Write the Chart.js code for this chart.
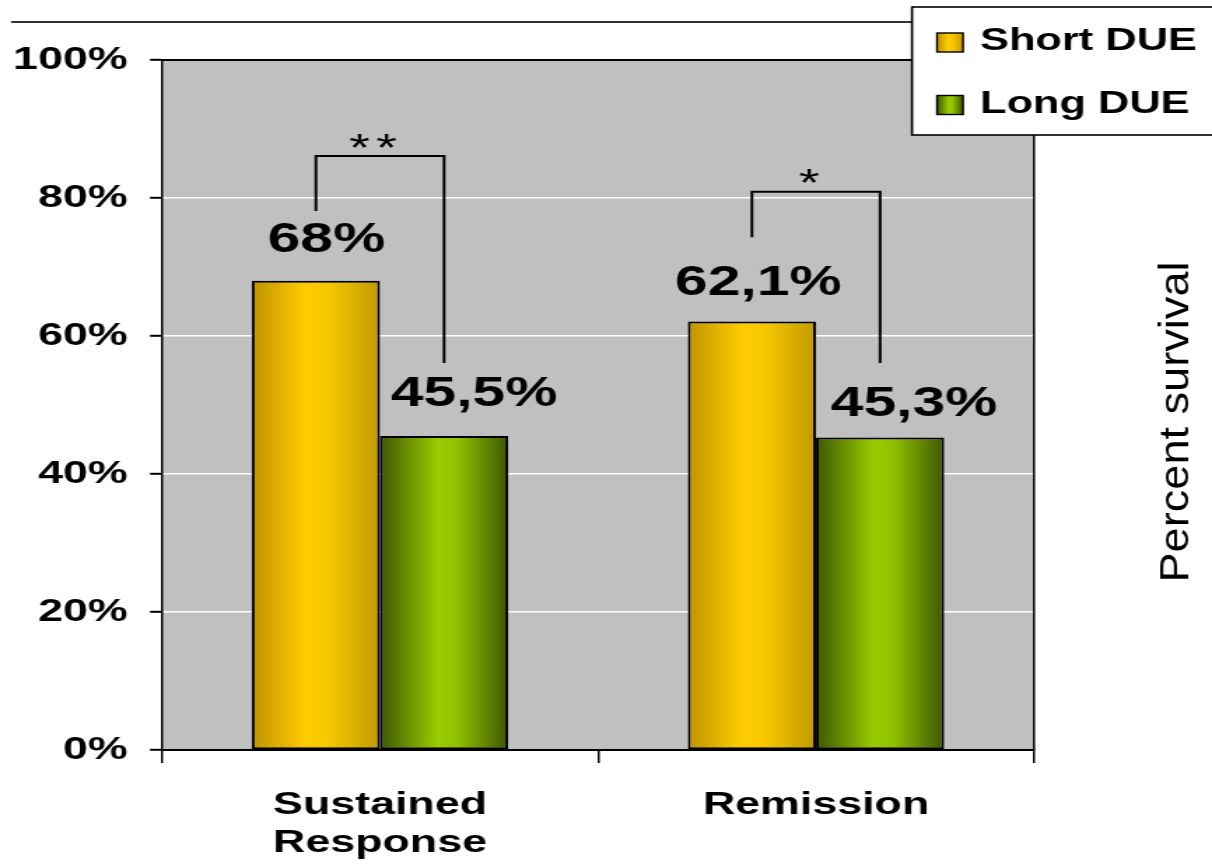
<!DOCTYPE html>
<html>
<head>
<meta charset="utf-8">
<title>Percent survival by DUE</title>
<script src="https://cdn.jsdelivr.net/npm/chart.js@4/dist/chart.umd.min.js"></script>
<style>
  html, body { margin: 0; padding: 0; background: #fff; overflow: hidden; }
  /* the drawing is laid out on a narrow canvas and widened to the page */
  #wrap { position: absolute; left: 0; top: 0; width: 866px; height: 868px;
          transform-origin: 0 0; transform: scaleX(1.39954); }
  canvas { display: block; }
</style>
</head>
<body>
<div id="wrap"><canvas id="c" width="866" height="868"></canvas></div>
<script>
// ---- data ----
const categories = [['Sustained', 'Response'], 'Remission'];
const seriesNames = ['Short DUE', 'Long DUE'];
const shortDUE = [68, 62.1];
const longDUE = [45.5, 45.3];
const yTicks = [0, 20, 40, 60, 80, 100];
const sigLabels = ['**', '*'];
const bracketTop = [86.1, 80.9];      // level of each significance bracket (%)
const bracketLeftEnd = [78.1, 74.3];  // where the left leg stops (%)
const bracketRightEnd = [56.1, 56.1]; // where the right leg stops (%)
const sideTitle = 'Percent survival';

// ---- styling ----
const SX = 1212 / 866;                 // horizontal widening applied by CSS
const FONT = '"Liberation Sans", Arial, sans-serif';
const palette = [
  [[0, '#BF9300'], [0.42, '#FFCC00'], [0.6, '#F7C700'], [1, '#C19A00']],
  [[0, '#3E5700'], [0.45, '#99CC00'], [0.6, '#91C200'], [1, '#3E5700']]
];
// nudges of the value labels: [dataset][category] in canvas px
const labelDx = [[7.5, 4.6], [21.4, 24.3]];
const labelGap = [[29, 27], [30, 21]];

const fmtPct = v => String(v).replace('.', ',') + '%';

function fillGradient(ctx, x0, x1, stops) {
  const g = ctx.createLinearGradient(x0, 0, x1, 0);
  stops.forEach(([o, c]) => g.addColorStop(o, c));
  return g;
}

const decor = {
  id: 'decor',
  beforeDraw(chart) {
    const { ctx, chartArea: a } = chart;
    ctx.save();
    ctx.fillStyle = '#C0C0C0';
    ctx.fillRect(a.left, a.top, a.right - a.left, a.bottom - a.top);
    ctx.restore();
  },
  beforeDatasetsDraw(chart) {
    const ctx = chart.ctx;
    chart.data.datasets.forEach((ds, di) => {
      chart.getDatasetMeta(di).data.forEach(bar => {
        const g = fillGradient(ctx, bar.x - bar.width / 2, bar.x + bar.width / 2, palette[di]);
        bar.options = Object.assign({}, bar.options, { backgroundColor: g });
      });
    });
  },
  afterDatasetsDraw(chart) {
    const { ctx, chartArea: a } = chart;
    const y = chart.scales.y;
    ctx.save();

    // frame: top and right edges of the plot
    ctx.strokeStyle = '#000';
    ctx.lineWidth = 2;
    ctx.beginPath();
    ctx.moveTo(a.left, a.top); ctx.lineTo(a.right, a.top);
    ctx.stroke();
    ctx.lineWidth = 1.5;
    ctx.beginPath();
    ctx.moveTo(a.right, a.top); ctx.lineTo(a.right, a.bottom);
    ctx.stroke();

    // value labels
    ctx.fillStyle = '#000';
    ctx.font = 'bold 42px ' + FONT;
    ctx.textAlign = 'center';
    ctx.textBaseline = 'alphabetic';
    chart.data.datasets.forEach((ds, di) => {
      chart.getDatasetMeta(di).data.forEach((bar, i) => {
        ctx.fillText(fmtPct(ds.data[i]), bar.x + labelDx[di][i], bar.y - labelGap[di][i]);
      });
    });

    // significance brackets
    const m0 = chart.getDatasetMeta(0).data;
    const m1 = chart.getDatasetMeta(1).data;
    ctx.strokeStyle = '#000';
    ctx.lineWidth = 2;
    sigLabels.forEach((lab, i) => {
      const xl = m0[i].x, xr = m1[i].x;
      const yt = y.getPixelForValue(bracketTop[i]);
      ctx.beginPath();
      ctx.moveTo(xl, y.getPixelForValue(bracketLeftEnd[i]));
      ctx.lineTo(xl, yt);
      ctx.lineTo(xr, yt);
      ctx.lineTo(xr, y.getPixelForValue(bracketRightEnd[i]));
      ctx.stroke();
      // stars, spaced apart
      const fs = 38;
      ctx.font = fs + 'px ' + FONT;
      ctx.textAlign = 'center';
      ctx.textBaseline = 'alphabetic';
      const cx = (xl + xr) / 2 - 7 / SX;
      const step = 27 / SX;
      const base = yt - 17 + 0.57 * fs;
      const n = lab.length;
      for (let k = 0; k < n; k++) {
        ctx.fillText('*', cx + (k - (n - 1) / 2) * step, base);
      }
    });

    // rule across the top
    ctx.strokeStyle = '#333';
    ctx.lineWidth = 2;
    ctx.beginPath();
    ctx.moveTo(11 / SX, 22); ctx.lineTo(912 / SX, 22);
    ctx.stroke();

    // legend box
    const lx = 912 / SX;
    ctx.fillStyle = '#fff';
    ctx.fillRect(lx, 7, 300, 128);
    ctx.strokeStyle = '#000';
    ctx.lineWidth = 1.6;
    ctx.strokeRect(lx, 7, 300, 128);
    const rows = [42.5, 105];
    const textRows = [41, 104];
    chart.data.datasets.forEach((ds, di) => {
      const sx = 937 / SX, sw = 18.6, sh = 19;
      const sy = rows[di] - sh / 2;
      ctx.fillStyle = fillGradient(ctx, sx, sx + sw, palette[di]);
      ctx.fillRect(sx, sy, sw, sh);
      ctx.lineWidth = 1.4;
      ctx.strokeStyle = '#000';
      ctx.strokeRect(sx, sy, sw, sh);
      ctx.fillStyle = '#000';
      ctx.font = 'bold 31px ' + FONT;
      ctx.textAlign = 'left';
      ctx.textBaseline = 'middle';
      ctx.fillText(ds.label, 980 / SX, textRows[di]);
    });

    // rotated side title
    ctx.save();
    ctx.translate(1177 / SX, 422);
    ctx.rotate(-Math.PI / 2);
    ctx.font = '29px ' + FONT;
    const w = ctx.measureText(sideTitle).width;
    ctx.scale(321 / w, 1);
    ctx.fillStyle = '#000';
    ctx.textAlign = 'center';
    ctx.textBaseline = 'middle';
    ctx.fillText(sideTitle, 0, 0);
    ctx.restore();

    ctx.restore();
  }
};

new Chart(document.getElementById('c'), {
  type: 'bar',
  data: {
    labels: categories,
    datasets: [
      { label: seriesNames[0], data: shortDUE, backgroundColor: '#FFCC00',
        borderColor: '#000', borderWidth: 2, borderSkipped: false },
      { label: seriesNames[1], data: longDUE, backgroundColor: '#99CC00',
        borderColor: '#000', borderWidth: 2, borderSkipped: false }
    ]
  },
  options: {
    responsive: false,
    animation: false,
    devicePixelRatio: 1,
    layout: { padding: { top: 60, right: 866 - 1034 / SX, left: 0, bottom: 0 } },
    datasets: { bar: { categoryPercentage: 0.588, barPercentage: 1 } },
    plugins: { legend: { display: false }, tooltip: { enabled: false } },
    scales: {
      x: {
        offset: true,
        afterFit: s => { s.height = 118; },
        grid: { drawOnChartArea: false, color: '#000', tickColor: '#000',
                tickLength: 13, lineWidth: 1.5, offset: true },
        border: { color: '#000', width: 2 },
        ticks: { color: '#000', font: { family: FONT, size: 32, weight: 'bold', lineHeight: 1.2 },
                 padding: 23, maxRotation: 0, autoSkip: false }
      },
      y: {
        min: 0, max: 100,
        afterFit: s => { s.width = 162 / SX; },
        afterBuildTicks: s => { s.ticks = yTicks.map(v => ({ value: v })); },
        grid: {
          color: c => (c.tick && (c.tick.value === 0 || c.tick.value === 100)) ? 'rgba(0,0,0,0)' : '#fff',
          lineWidth: 1.6, tickColor: '#000', tickWidth: 2, tickLength: 12 / SX
        },
        border: { color: '#000', width: 1.5 },
        ticks: { color: '#000', font: { family: FONT, size: 32, weight: 'bold' },
                 padding: 16, callback: v => v + '%' }
      }
    }
  },
  plugins: [decor]
});
</script>
</body>
</html>
